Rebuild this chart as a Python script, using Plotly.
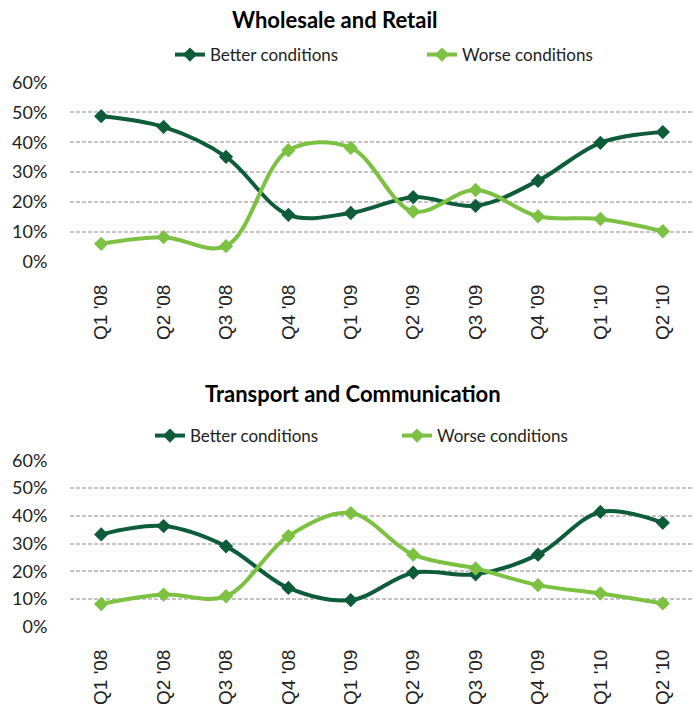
import plotly.graph_objects as go

quarters = ["Q1 '08", "Q2 '08", "Q3 '08", "Q4 '08", "Q1 '09", "Q2 '09", "Q3 '09", "Q4 '09", "Q1 '10", "Q2 '10"]

wr_better = [0.487, 0.451, 0.351, 0.157, 0.163, 0.216, 0.187, 0.271, 0.398, 0.434]
wr_worse = [0.060, 0.082, 0.052, 0.373, 0.381, 0.168, 0.240, 0.152, 0.143, 0.102]

tc_better = [0.333, 0.363, 0.290, 0.140, 0.096, 0.195, 0.189, 0.260, 0.414, 0.375]
tc_worse = [0.082, 0.116, 0.110, 0.327, 0.410, 0.260, 0.210, 0.150, 0.120, 0.084]

titles = ["Wholesale and Retail", "Transport and Communication"]
series_names = ["Better conditions", "Worse conditions"]
y_ticks = [0, 0.1, 0.2, 0.3, 0.4, 0.5, 0.6]

DARK = "#0E5C3A"
LIGHT = "#7CC142"
FONT = "Lato"

W, H = 694, 708

fig = go.Figure()

panels = [
    (wr_better, wr_worse, "x", "y", "legend"),
    (tc_better, tc_worse, "x2", "y2", "legend2"),
]

for better, worse, xa, ya, lg in panels:
    for vals, name, col in [(better, series_names[0], DARK), (worse, series_names[1], LIGHT)]:
        fig.add_trace(go.Scatter(
            x=quarters, y=vals, name=name, mode="lines+markers",
            line=dict(color=col, width=4, shape="spline", smoothing=1),
            marker=dict(symbol="diamond", size=11, color=col),
            xaxis=xa, yaxis=ya, legend=lg,
        ))

def py(px):
    return 1 - px / H

axis_x = dict(
    type="category", showgrid=False, zeroline=False, showline=False,
    range=[-0.5, len(quarters) - 0.5],
    tickangle=-90, ticks="outside", ticklen=14, tickcolor="rgba(0,0,0,0)",
    tickfont=dict(family="Liberation Sans", size=19, color="#222222"),
    domain=[70 / W, 1.0], automargin=False,
)
axis_y = dict(
    range=[-0.001, 0.6015], tickvals=y_ticks, tickformat=".0%",
    showgrid=True, gridcolor="#C4C4C4", griddash="4px,2px", gridwidth=1.6,
    zeroline=False, showline=False, automargin=False,
    tickfont=dict(family=FONT, size=18, color="#222222"),
    ticks="outside", ticklen=18, tickcolor="rgba(0,0,0,0)",
)

legend_common = dict(
    orientation="h", xanchor="left", yanchor="middle",
    entrywidthmode="pixels",
    font=dict(family=FONT, size=17, color="#222222"), bgcolor="rgba(0,0,0,0)",
)

fig.update_layout(
    width=W, height=H,
    margin=dict(l=0, r=0, t=0, b=0, autoexpand=False),
    paper_bgcolor="white", plot_bgcolor="white",
    font=dict(family=FONT, color="#222222"),
    xaxis=dict(axis_x, anchor="y"),
    yaxis=dict(axis_y, domain=[py(262), py(82)], anchor="x"),
    xaxis2=dict(axis_x, anchor="y2"),
    yaxis2=dict(axis_y, domain=[py(627), py(460)], anchor="x2"),
    legend=dict(legend_common, x=170 / W, y=py(55), entrywidth=207),
    legend2=dict(legend_common, x=150 / W, y=py(436), entrywidth=202),
    showlegend=True,
    annotations=[
        dict(text="<b>" + titles[0] + "</b>", x=334 / W, y=py(20), xref="paper", yref="paper",
             showarrow=False, xanchor="center", yanchor="middle",
             font=dict(family=FONT, size=22, color="#000000")),
        dict(text="<b>" + titles[1] + "</b>", x=353 / W, y=py(393), xref="paper", yref="paper",
             showarrow=False, xanchor="center", yanchor="middle",
             font=dict(family=FONT, size=22, color="#000000")),
    ],
)

fig.write_html("out.html", config={"displayModeBar": False},
               post_script="document.body.style.margin='0';")
